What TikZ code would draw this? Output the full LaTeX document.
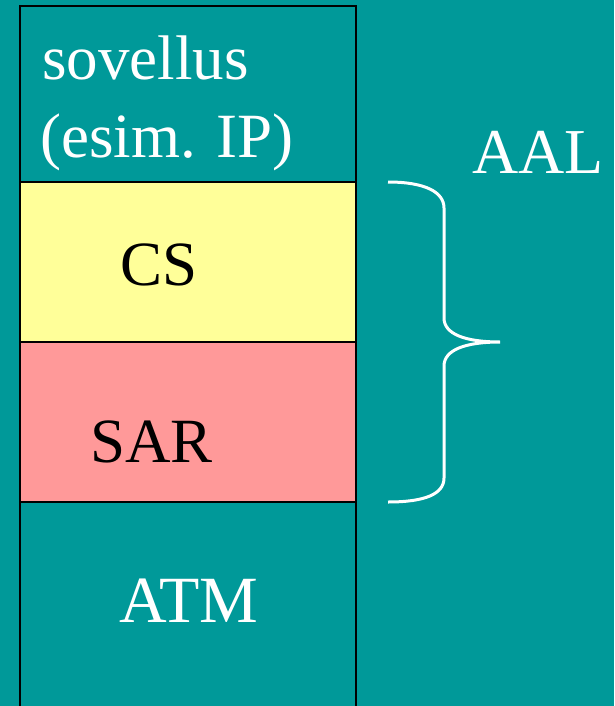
\documentclass[tikz,border=0pt]{standalone}
\usepackage{fontspec}
\setmainfont{Liberation Serif}
\definecolor{teal}{HTML}{009999}
\definecolor{csyellow}{HTML}{FFFF99}
\definecolor{sarpink}{HTML}{FF9999}
\begin{document}
\begin{tikzpicture}[x=1pt,y=-1pt,
  layer/.style={draw=black, line width=2.6pt, minimum width=336pt, inner sep=0pt, outer sep=0pt},
  lbl/.style={anchor=base west, inner sep=0pt, font=\fontsize{63}{77}\selectfont},
  brace/.style={draw=white, line width=3pt}]
\useasboundingbox (0,0) rectangle (614,706);
\fill[teal] (0,0) rectangle (614,706);
\clip (0,0) rectangle (614,706);
\node[layer, fill=teal, minimum height=176pt] (app) at (188,94) {};
\node[layer, fill=csyellow, minimum height=160pt] (cs) at (188,262) {};
\node[layer, fill=sarpink, minimum height=160pt] (sar) at (188,422) {};
\node[layer, fill=teal, minimum height=230pt] (atm) at (188,617) {};
\node[lbl, text=white] (t1) at (42,80) {sovellus};
\node[lbl, text=white] (t2) at (40,157) {(esim. IP)};
\node[lbl, text=black] (tcs) at (120,285) {CS};
\node[lbl, text=black] (tsar) at (90,462) {SAR};
\node[lbl, text=white, font=\fontsize{66}{77}\selectfont] (tatm) at (119,622) {ATM};
\node[lbl, text=white, font=\fontsize{64}{77}\selectfont] (taal) at (472,173) {AAL};
\coordinate (btop) at (388,182);
\coordinate (btip) at (500,342);
\coordinate (bbot) at (388,502);
\draw[brace] (btop) .. controls (425,182) and (444,192) .. (444,208)
  -- (444,318) .. controls (444,334) and (465,342) .. (btip)
  .. controls (465,342) and (444,350) .. (444,366)
  -- (444,478) .. controls (444,494) and (425,502) .. (bbot);
\end{tikzpicture}
\end{document}
